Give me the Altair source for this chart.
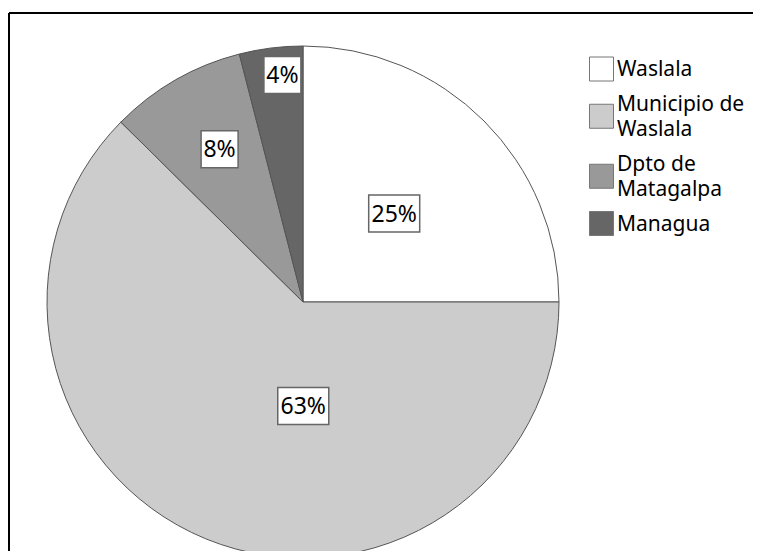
import altair as alt
import pandas as pd

# ---- data ----
categories = ["Waslala", "Municipio de Waslala", "Dpto de Matagalpa", "Managua"]
values = [25.0, 62.4, 8.6, 4.0]
pct_labels = ["25%", "63%", "8%", "4%"]
legend_lines = [["Waslala"], ["Municipio de", "Waslala"], ["Dpto de", "Matagalpa"], ["Managua"]]

# ---- styling / layout ----
colors = ["#ffffff", "#cccccc", "#999999", "#666666"]
label_frac = [0.51, 0.40, 0.54, 0.64]   # where along each slice the label sits
label_rad = [127, 104, 174, 228]        # label distance from centre (px)
CX, CY, R = 295, 294, 256
W, H = 745, 543
FONT = "Noto Sans"

df = pd.DataFrame({
    "category": categories,
    "value": values,
    "label": pct_labels,
    "idx": list(range(len(categories))),
    "frac": label_frac,
    "rad": label_rad,
})

# manual legend layout (symbol centred on its text block)
LEG_SYM_X, LEG_TXT_X, LEG_TOP = 593.5, 609, 61
LINE_H, GAP = 25.5, 6
sym_rows, txt_rows = [], []
yc = LEG_TOP
prev_half = None
for cat, lines in zip(categories, legend_lines):
    half = max(12, len(lines) * LINE_H / 2 + 1.5)
    if prev_half is not None:
        yc += prev_half + GAP + half
    prev_half = half
    sym_rows.append({"category": cat, "sx": LEG_SYM_X, "sy": yc})
    first = yc - (len(lines) - 1) * LINE_H / 2
    for i, ln in enumerate(lines):
        txt_rows.append({"t": ln, "tx": LEG_TXT_X, "ty": first + i * LINE_H})
leg_sym_df = pd.DataFrame(sym_rows)
leg_txt_df = pd.DataFrame(txt_rows)

color_scale = alt.Scale(domain=categories, range=colors)

base = alt.Chart(df)

arcs = base.mark_arc(radius=R, stroke="#555555", strokeWidth=1).encode(
    theta=alt.Theta("value:Q", stack=True, scale=alt.Scale(domain=[0, 100])),
    color=alt.Color("category:N", scale=color_scale, legend=None),
    order=alt.Order("idx:Q"),
    x=alt.value(CX),
    y=alt.value(CY),
)

pos = base.transform_window(
    cum="sum(value)", sort=[alt.SortField("idx")], frame=[None, 0]
).transform_calculate(
    a="(datum.cum - datum.value + datum.frac * datum.value) / 100 * 2 * PI",
    w="14 * length(datum.label) + 9",
).transform_calculate(
    px=f"{CX} + datum.rad * sin(datum.a)",
    py=f"{CY} - datum.rad * cos(datum.a)",
).transform_calculate(
    x0="datum.px - datum.w / 2",
    x1="datum.px + datum.w / 2",
    y0="datum.py - 18.5",
    y1="datum.py + 18.5",
)

boxes = pos.mark_rect(fill="white", stroke="#666666", strokeWidth=1.5).encode(
    x=alt.X("x0:Q", scale=None, axis=None),
    x2="x1:Q",
    y=alt.Y("y0:Q", scale=None, axis=None),
    y2="y1:Q",
)

texts = pos.mark_text(font=FONT, fontSize=23, color="black",
                      align="center", baseline="middle", dy=1).encode(
    x=alt.X("px:Q", scale=None, axis=None),
    y=alt.Y("py:Q", scale=None, axis=None),
    text="label:N",
)

leg_sym = alt.Chart(leg_sym_df).mark_square(
    size=576, opacity=1, stroke="#777777", strokeWidth=1
).encode(
    x=alt.X("sx:Q", scale=None, axis=None),
    y=alt.Y("sy:Q", scale=None, axis=None),
    fill=alt.Fill("category:N", scale=color_scale, legend=None),
)

leg_txt = alt.Chart(leg_txt_df).mark_text(
    font=FONT, fontSize=21, color="black", align="left", baseline="middle", dy=1
).encode(
    x=alt.X("tx:Q", scale=None, axis=None),
    y=alt.Y("ty:Q", scale=None, axis=None),
    text="t:N",
)

one = alt.Chart(pd.DataFrame({"k": [0]}))
top_rule = one.mark_rule(color="black", strokeWidth=2).encode(
    x=alt.value(1), x2=alt.value(W), y=alt.value(5)
)
left_rule = one.mark_rule(color="black", strokeWidth=2).encode(
    x=alt.value(1), y=alt.value(5), y2=alt.value(H)
)

chart = alt.layer(arcs, boxes, texts, leg_sym, leg_txt, top_rule, left_rule).properties(
    width=W, height=H, padding=0, autosize=alt.AutoSizeParams(type="none"),
    background="white",
).configure_view(stroke=None)

chart.save("out.html", embed_options={"renderer": "svg", "actions": False})
